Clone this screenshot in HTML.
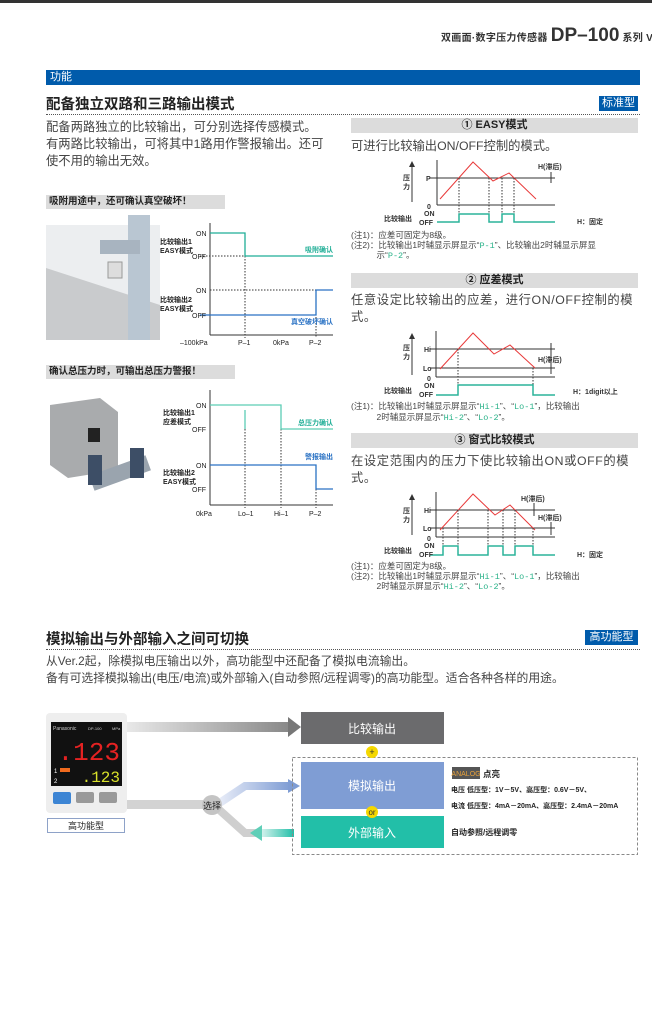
<!DOCTYPE html>
<html><head><meta charset="utf-8"><style>
*{margin:0;padding:0;box-sizing:border-box}
body{width:652px;height:1018px;position:relative;background:#fff;font-family:"Liberation Sans","Noto Sans CJK SC",sans-serif;color:#333;overflow:hidden}
.a{position:absolute;white-space:nowrap}
.hd{position:absolute;background:#dcdcdc;text-align:center;font-size:11px;font-weight:bold;line-height:15px;color:#222}
.p{font-size:12.3px;color:#444;line-height:17px}
.n{font-size:8.5px;color:#444;line-height:9.5px}
.g{color:#2bb38a;font-family:"Liberation Mono",monospace}
</style></head><body>
<div class="a" style="left:0;top:0;width:652px;height:3px;background:#333"></div>
<div class="a" style="left:441px;top:25px;font-size:10px;font-weight:bold;color:#333;letter-spacing:0.3px">双画面·数字压力传感器 <span style="font-size:19px;letter-spacing:0">DP–100</span> 系列 V</div>
<div class="a" style="left:46px;top:70px;width:594px;height:15px;background:#005bab;color:#fff;font-size:11px;line-height:15px;padding-left:4px">功能</div>
<div class="a" style="left:46px;top:93px;font-size:14.5px;font-weight:bold;color:#222">配备独立双路和三路输出模式</div>
<div class="a" style="left:599px;top:96px;width:39px;height:15px;background:#005bab;color:#fff;font-size:11px;line-height:15px;text-align:center">标准型</div>
<div class="a" style="left:46px;top:114px;width:594px;border-top:1px dotted #555"></div>
<div class="a p" style="left:46px;top:119px">配备两路独立的比较输出，可分别选择传感模式。<br>有两路比较输出，可将其中1路用作警报输出。还可<br>使不用的输出无效。</div>

<div class="hd" style="left:351px;top:118px;width:287px">① EASY模式</div>
<div class="a p" style="left:351px;top:138px">可进行比较输出ON/OFF控制的模式。</div>
<div class="hd" style="left:351px;top:273px;width:287px">② 应差模式</div>
<div class="a p" style="left:351px;top:292px;letter-spacing:0.6px">任意设定比较输出的应差，进行ON/OFF控制的模<br>式。</div>
<div class="hd" style="left:351px;top:433px;width:287px">③ 窗式比较模式</div>
<div class="a p" style="left:351px;top:453px;letter-spacing:0.6px">在设定范围内的压力下使比较输出ON或OFF的模<br>式。</div>

<div class="a n" style="left:351px;top:231px">(注1)：应差可固定为8级。<br>(注2)：比较输出1时辅显示屏显示“<span class="g">P-1</span>”、比较输出2时辅显示屏显<br>　　　示“<span class="g">P-2</span>”。</div>
<div class="a n" style="left:351px;top:402px">(注1)：比较输出1时辅显示屏显示“<span class="g">Hi-1</span>”、“<span class="g">Lo-1</span>”，比较输出<br>　　　2时辅显示屏显示“<span class="g">Hi-2</span>”、“<span class="g">Lo-2</span>”。</div>
<div class="a n" style="left:351px;top:562px">(注1)：应差可固定为8级。<br>(注2)：比较输出1时辅显示屏显示“<span class="g">Hi-1</span>”、“<span class="g">Lo-1</span>”，比较输出<br>　　　2时辅显示屏显示“<span class="g">Hi-2</span>”、“<span class="g">Lo-2</span>”。</div>

<svg class="a" style="left:0;top:0" width="652" height="1018" font-family="Liberation Sans,Noto Sans CJK SC,sans-serif" font-size="7" font-weight="bold" fill="#333">
<defs><marker id="ar" markerWidth="6" markerHeight="6" refX="3" refY="3" orient="auto"><path d="M0,0L6,3L0,6z" fill="#333"/></marker></defs>
<!-- illustrations -->
<rect x="46" y="225" width="114" height="115" fill="#eceef0"/>
<polygon points="46,268 160,305 160,340 46,340" fill="#c9cbcd"/>
<rect x="128" y="215" width="22" height="125" fill="#b9c6d2"/>
<rect x="100" y="240" width="40" height="14" fill="#a8b4c0"/>
<rect x="108" y="262" width="14" height="16" fill="#ddd" stroke="#999"/>
<polygon points="50,405 100,398 118,412 118,470 68,478 50,465" fill="#a9abad"/>
<rect x="90" y="465" width="60" height="16" fill="#9aa4ae" transform="rotate(-20 120 473)"/>
<rect x="88" y="455" width="14" height="30" fill="#3d4e66"/>
<rect x="130" y="448" width="14" height="30" fill="#3d4e66"/>
<rect x="88" y="428" width="12" height="14" fill="#222"/>
<!-- chart1 -->
<line x1="412" y1="202" x2="412" y2="164" stroke="#333" marker-end="url(#ar)"/>
<text x="403" y="180">压</text><text x="403" y="189">力</text>
<line x1="437" y1="160" x2="437" y2="205" stroke="#333"/>
<line x1="437" y1="205" x2="555" y2="205" stroke="#333"/>
<line x1="430" y1="178" x2="555" y2="178" stroke="#333"/>
<text x="426" y="181">P</text><text x="427" y="209">0</text>
<polyline points="440,199 473,162 493,181 509,173 536,199" fill="none" stroke="#e83a3a"/>
<g stroke="#333" stroke-dasharray="1.5,1.5"><line x1="459" y1="178" x2="459" y2="214"/><line x1="489" y1="178" x2="489" y2="222"/><line x1="502" y1="178" x2="502" y2="214"/><line x1="514" y1="178" x2="514" y2="214"/></g>
<polyline points="437,222 459,222 459,214 489,214 489,222 502,222 502,214 514,214 514,222 555,222" fill="none" stroke="#2bb39a" stroke-width="1.5"/>
<text x="424" y="216">ON</text><text x="419" y="225">OFF</text><text x="384" y="221">比较输出</text>
<text x="538" y="169">H(滞后)</text><line x1="551" y1="172" x2="551" y2="183" stroke="#333"/>
<text x="577" y="224">H：固定</text>
<!-- chart2 -->
<line x1="412" y1="375" x2="412" y2="336" stroke="#333" marker-end="url(#ar)"/>
<text x="403" y="350">压</text><text x="403" y="359">力</text>
<line x1="436" y1="331" x2="436" y2="377" stroke="#333"/>
<line x1="430" y1="349" x2="555" y2="349" stroke="#333"/><line x1="430" y1="368" x2="555" y2="368" stroke="#333"/><line x1="436" y1="377" x2="555" y2="377" stroke="#333"/>
<text x="424" y="352">Hi</text><text x="423" y="371">Lo</text><text x="427" y="381">0</text>
<polyline points="440,369 473,333 494,354 510,345 535,368" fill="none" stroke="#e83a3a"/>
<g stroke="#333" stroke-dasharray="1.5,1.5"><line x1="458" y1="349" x2="458" y2="385"/><line x1="533" y1="368" x2="533" y2="395"/></g>
<polyline points="436,395 458,395 458,385 533,385 533,395 555,395" fill="none" stroke="#2bb39a" stroke-width="1.5"/>
<text x="424" y="388">ON</text><text x="419" y="397">OFF</text><text x="384" y="393">比较输出</text>
<text x="538" y="362">H(滞后)</text><line x1="551" y1="343" x2="551" y2="374" stroke="#333"/>
<text x="573" y="394">H：1digit以上</text>
<!-- chart3 -->
<line x1="412" y1="535" x2="412" y2="497" stroke="#333" marker-end="url(#ar)"/>
<text x="403" y="513">压</text><text x="403" y="522">力</text>
<line x1="436" y1="492" x2="436" y2="537" stroke="#333"/>
<line x1="430" y1="510" x2="555" y2="510" stroke="#333"/><line x1="430" y1="528" x2="555" y2="528" stroke="#333"/><line x1="436" y1="537" x2="555" y2="537" stroke="#333"/>
<text x="424" y="513">Hi</text><text x="423" y="531">Lo</text><text x="427" y="541">0</text>
<polyline points="440,530 473,494 495,515 510,505 535,530" fill="none" stroke="#e83a3a"/>
<g stroke="#333" stroke-dasharray="1.5,1.5"><line x1="443" y1="528" x2="443" y2="546"/><line x1="458" y1="510" x2="458" y2="546"/><line x1="488" y1="510" x2="488" y2="546"/><line x1="503" y1="510" x2="503" y2="546"/><line x1="515" y1="510" x2="515" y2="546"/><line x1="533" y1="528" x2="533" y2="546"/></g>
<polyline points="430,555 443,555 443,546 458,546 458,555 488,555 488,546 503,546 503,555 515,555 515,546 533,546 533,555 555,555" fill="none" stroke="#2bb39a" stroke-width="1.5"/>
<text x="424" y="548">ON</text><text x="419" y="557">OFF</text><text x="384" y="553">比较输出</text>
<text x="521" y="501">H(滞后)</text><line x1="534" y1="503" x2="534" y2="516" stroke="#333"/>
<text x="538" y="520">H(滞后)</text><line x1="551" y1="522" x2="551" y2="535" stroke="#333"/>
<text x="577" y="557">H：固定</text>

<!-- left charts -->
<g font-weight="normal" font-size="7" fill="#222">
<line x1="210" y1="223" x2="210" y2="335" stroke="#333"/><line x1="210" y1="335" x2="333" y2="335" stroke="#333"/>
<g stroke="#333" stroke-dasharray="1.5,1.5"><line x1="200" y1="256" x2="245" y2="256"/><line x1="210" y1="290" x2="316" y2="290"/><line x1="245" y1="256" x2="245" y2="338"/><line x1="316" y1="290" x2="316" y2="338"/></g>
<polyline points="210,233 245,233 245,256 333,256" fill="none" stroke="#1fae96" stroke-width="1.3"/>
<polyline points="200,315 316,315 316,290 333,290" fill="none" stroke="#2a72c4" stroke-width="1.3"/>
<text x="196" y="236">ON</text><text x="192" y="259">OFF</text><text x="196" y="293">ON</text><text x="192" y="318">OFF</text>
<text x="160" y="244" font-weight="bold">比较输出1</text><text x="160" y="253" font-weight="bold">EASY模式</text>
<text x="160" y="302" font-weight="bold">比较输出2</text><text x="160" y="311" font-weight="bold">EASY模式</text>
<text x="333" y="252" text-anchor="end" fill="#1fae96" font-weight="bold">吸附确认</text>
<text x="333" y="324" text-anchor="end" fill="#2a72c4" font-weight="bold">真空破坏确认</text>
<text x="180" y="345">–100kPa</text><text x="238" y="345">P–1</text><text x="273" y="345">0kPa</text><text x="309" y="345">P–2</text>

<line x1="210" y1="390" x2="210" y2="505" stroke="#333"/><line x1="210" y1="505" x2="333" y2="505" stroke="#333"/>
<g stroke="#333" stroke-dasharray="1.5,1.5"><line x1="245" y1="429" x2="245" y2="508"/><line x1="281" y1="429" x2="281" y2="508"/><line x1="316" y1="489" x2="316" y2="508"/></g>
<polyline points="210,405 281,405 281,429 333,429" fill="none" stroke="#5ccdb5" stroke-width="1.3"/>
<polyline points="245,429 245,410" fill="none" stroke="#5ccdb5" stroke-width="1.3"/>
<polyline points="210,465 316,465 316,489 333,489" fill="none" stroke="#2a72c4" stroke-width="1.3"/>
<text x="196" y="408">ON</text><text x="192" y="432">OFF</text><text x="196" y="468">ON</text><text x="192" y="492">OFF</text>
<text x="163" y="415" font-weight="bold">比较输出1</text><text x="163" y="424" font-weight="bold">应差模式</text>
<text x="163" y="475" font-weight="bold">比较输出2</text><text x="163" y="484" font-weight="bold">EASY模式</text>
<text x="333" y="425" text-anchor="end" fill="#1fae96" font-weight="bold">总压力确认</text>
<text x="333" y="459" text-anchor="end" fill="#2a72c4" font-weight="bold">警报输出</text>
<text x="196" y="516">0kPa</text><text x="238" y="516">Lo–1</text><text x="274" y="516">Hi–1</text><text x="309" y="516">P–2</text>
</g>
</svg>
<div class="a" style="left:46px;top:195px;width:179px;height:14px;background:#dcdcdc;font-size:9.5px;font-weight:bold;line-height:14px;padding-left:3px;color:#222">吸附用途中，还可确认真空破坏！</div>
<div class="a" style="left:46px;top:365px;width:189px;height:14px;background:#dcdcdc;font-size:9.5px;font-weight:bold;line-height:14px;padding-left:3px;color:#222">确认总压力时，可输出总压力警报！</div>

<!-- bottom section -->
<div class="a" style="left:46px;top:628px;font-size:14.5px;font-weight:bold;color:#222">模拟输出与外部输入之间可切换</div>
<div class="a" style="left:585px;top:630px;width:53px;height:15px;background:#005bab;color:#fff;font-size:11px;line-height:15px;text-align:center">高功能型</div>
<div class="a" style="left:46px;top:649px;width:594px;border-top:1px dotted #555"></div>
<div class="a p" style="left:46px;top:653px;font-size:11.8px">从Ver.2起，除模拟电压输出以外，高功能型中还配备了模拟电流输出。<br>备有可选择模拟输出(电压/电流)或外部输入(自动参照/远程调零)的高功能型。适合各种各样的用途。</div>

<svg class="a" style="left:0;top:700px" width="652" height="170" font-family="Liberation Sans,Noto Sans CJK SC,sans-serif">
<defs>
<linearGradient id="gg" x1="0" x2="1"><stop offset="0" stop-color="#e8e8e8"/><stop offset="1" stop-color="#888"/></linearGradient>
<linearGradient id="gb" x1="0" x2="1"><stop offset="0" stop-color="#eef1fa"/><stop offset="1" stop-color="#7f9dd4"/></linearGradient>
<linearGradient id="gt" x1="1" x2="0"><stop offset="0" stop-color="#22bfa8"/><stop offset="1" stop-color="#e6f7f3"/></linearGradient>
</defs>
<rect x="127" y="22" width="163" height="10" fill="url(#gg)"/><polygon points="288,17 301,27 288,37" fill="#777"/>
<rect x="127" y="100" width="85" height="9" fill="#d3d3d3"/>
<polyline points="215,106 245,86 290,86" fill="none" stroke="url(#gb)" stroke-width="8"/><polygon points="288,79 300,86 288,93" fill="#7f9dd4"/>
<polyline points="215,106 245,133 290,133" fill="none" stroke="#cfcfcf" stroke-width="8"/>
<rect x="258" y="129" width="36" height="8" fill="url(#gt)"/><polygon points="262,125 250,133 262,141" fill="#5fcfb8"/>
<circle cx="212" cy="105" r="10" fill="#c4c4c4"/><text x="212" y="109" font-size="9" text-anchor="middle" fill="#222">选择</text>
<rect x="301" y="12" width="143" height="32" fill="#6b6b6d"/><text x="372" y="33" font-size="12" text-anchor="middle" fill="#fff">比较输出</text>
<rect x="292.5" y="57.5" width="345" height="97" fill="none" stroke="#888" stroke-dasharray="3,2"/>
<rect x="301" y="62" width="143" height="47" fill="#7f9dd4"/><text x="372" y="90" font-size="12" text-anchor="middle" fill="#fff">模拟输出</text>
<rect x="301" y="116" width="143" height="32" fill="#22bfa8"/><text x="372" y="137" font-size="12" text-anchor="middle" fill="#fff">外部输入</text>
<circle cx="372" cy="52" r="6" fill="#f5d800"/><text x="372" y="55" font-size="9" text-anchor="middle" fill="#333">+</text>
<circle cx="372" cy="112" r="6" fill="#f5d800"/><text x="372" y="115" font-size="8" text-anchor="middle" fill="#333">or</text>
<rect x="452" y="67" width="28" height="12" fill="#555"/><text x="466" y="76" font-size="7" text-anchor="middle" fill="#e8a13a">ANALOG</text>
<text x="483" y="77" font-size="8.5" font-weight="bold" fill="#222">点亮</text>
<text x="451" y="92" font-size="7" font-weight="bold" fill="#222">电压 低压型：1V－5V、高压型：0.6V－5V、</text>
<text x="451" y="108" font-size="7" font-weight="bold" fill="#222">电流 低压型：4mA－20mA、高压型：2.4mA－20mA</text>
<text x="451" y="135" font-size="8" font-weight="bold" fill="#222">自动参照/远程调零</text>
<rect x="46" y="13" width="81" height="100" rx="4" fill="#eee"/>
<rect x="51" y="22" width="71" height="64" fill="#111"/>
<text x="53" y="30" font-size="5" fill="#ccc">Panasonic</text><text x="88" y="30" font-size="4" fill="#ccc">DP-100</text><text x="112" y="30" font-size="4" fill="#ccc">MPa</text>
<text x="120" y="60" font-size="26" fill="#e52222" text-anchor="end" font-family="Liberation Mono,monospace">.123</text>
<text x="120" y="82" font-size="16" fill="#d8e02a" text-anchor="end" font-family="Liberation Mono,monospace">.123</text>
<text x="54" y="73" font-size="6" fill="#fff">1</text><rect x="60" y="68" width="10" height="4" fill="#f06a1e"/>
<text x="54" y="83" font-size="6" fill="#fff">2</text>
<rect x="53" y="92" width="18" height="12" rx="2" fill="#3d85d4"/>
<rect x="76" y="92" width="18" height="11" rx="2" fill="#999"/>
<rect x="99" y="92" width="18" height="11" rx="2" fill="#999"/>
<rect x="47.5" y="118.5" width="77" height="14" fill="#fff" stroke="#8ea2c8"/><text x="86" y="129" font-size="9" text-anchor="middle" fill="#222">高功能型</text>
</svg>
</body></html>
